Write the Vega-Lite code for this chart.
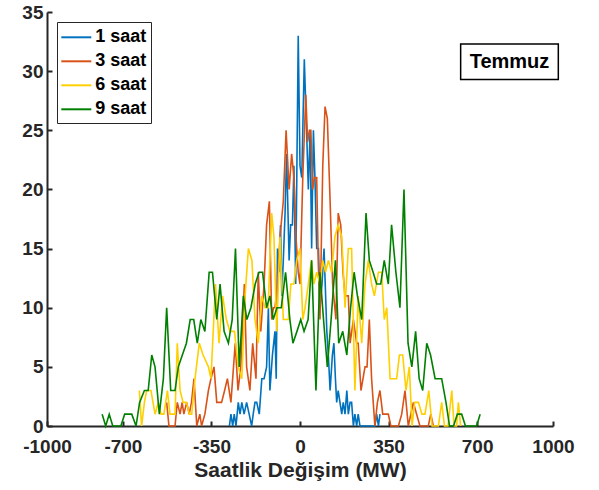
{
"$schema": "https://vega.github.io/schema/vega-lite/v6.json",
"width": 506, "height": 414,
"autosize": {"type": "none"},
"padding": {"left": 47, "top": 12, "right": 46, "bottom": 64},
"config": {"view": {"stroke": null}, "font": "Liberation Sans"},
"layer": [
{
"data": {"values": [
{"s":"1 saat","x":-279,"y":0},{"s":"1 saat","x":-273,"y":1},{"s":"1 saat","x":-266,"y":0},{"s":"1 saat","x":-260,"y":1},{"s":"1 saat","x":-253,"y":0},{"s":"1 saat","x":-244,"y":2},{"s":"1 saat","x":-237,"y":1},{"s":"1 saat","x":-230,"y":2},{"s":"1 saat","x":-221,"y":1},{"s":"1 saat","x":-211,"y":2},{"s":"1 saat","x":-201,"y":1},{"s":"1 saat","x":-191,"y":0},{"s":"1 saat","x":-185,"y":1},{"s":"1 saat","x":-178,"y":2},{"s":"1 saat","x":-171,"y":2},{"s":"1 saat","x":-161,"y":1},{"s":"1 saat","x":-151,"y":4},{"s":"1 saat","x":-142,"y":4},{"s":"1 saat","x":-132,"y":5},{"s":"1 saat","x":-125,"y":10},{"s":"1 saat","x":-119,"y":3},{"s":"1 saat","x":-109,"y":6},{"s":"1 saat","x":-99,"y":8},{"s":"1 saat","x":-94,"y":4},{"s":"1 saat","x":-89,"y":15},{"s":"1 saat","x":-83,"y":13},{"s":"1 saat","x":-77,"y":17},{"s":"1 saat","x":-72,"y":11},{"s":"1 saat","x":-66,"y":14},{"s":"1 saat","x":-59,"y":18},{"s":"1 saat","x":-53,"y":23},{"s":"1 saat","x":-43,"y":14},{"s":"1 saat","x":-37,"y":17},{"s":"1 saat","x":-30,"y":17},{"s":"1 saat","x":-24,"y":22},{"s":"1 saat","x":-17,"y":12},{"s":"1 saat","x":-7,"y":33},{"s":"1 saat","x":0,"y":22},{"s":"1 saat","x":7,"y":21},{"s":"1 saat","x":17,"y":31},{"s":"1 saat","x":26,"y":25},{"s":"1 saat","x":33,"y":20},{"s":"1 saat","x":40,"y":25},{"s":"1 saat","x":46,"y":15},{"s":"1 saat","x":53,"y":25},{"s":"1 saat","x":59,"y":21},{"s":"1 saat","x":66,"y":15},{"s":"1 saat","x":73,"y":15},{"s":"1 saat","x":79,"y":10},{"s":"1 saat","x":87,"y":12},{"s":"1 saat","x":95,"y":15},{"s":"1 saat","x":106,"y":8},{"s":"1 saat","x":112,"y":6},{"s":"1 saat","x":119,"y":3},{"s":"1 saat","x":128,"y":6},{"s":"1 saat","x":134,"y":7},{"s":"1 saat","x":140,"y":4},{"s":"1 saat","x":145,"y":2},{"s":"1 saat","x":151,"y":3},{"s":"1 saat","x":158,"y":2},{"s":"1 saat","x":165,"y":1},{"s":"1 saat","x":171,"y":2},{"s":"1 saat","x":178,"y":1},{"s":"1 saat","x":185,"y":3},{"s":"1 saat","x":191,"y":1},{"s":"1 saat","x":198,"y":2},{"s":"1 saat","x":204,"y":2},{"s":"1 saat","x":211,"y":0},{"s":"1 saat","x":217,"y":1},{"s":"1 saat","x":224,"y":0},{"s":"1 saat","x":230,"y":1},{"s":"1 saat","x":237,"y":0},{"s":"1 saat","x":296,"y":0},{"s":"1 saat","x":303,"y":1},{"s":"1 saat","x":310,"y":0},{"s":"1 saat","x":316,"y":1},
{"s":"3 saat","x":-527,"y":2},{"s":"3 saat","x":-518,"y":0},{"s":"3 saat","x":-494,"y":0},{"s":"3 saat","x":-485,"y":2},{"s":"3 saat","x":-474,"y":1},{"s":"3 saat","x":-466,"y":2},{"s":"3 saat","x":-459,"y":1},{"s":"3 saat","x":-448,"y":2},{"s":"3 saat","x":-438,"y":1},{"s":"3 saat","x":-429,"y":2},{"s":"3 saat","x":-419,"y":4},{"s":"3 saat","x":-408,"y":0},{"s":"3 saat","x":-396,"y":1},{"s":"3 saat","x":-389,"y":0},{"s":"3 saat","x":-376,"y":1},{"s":"3 saat","x":-362,"y":3},{"s":"3 saat","x":-352,"y":4},{"s":"3 saat","x":-340,"y":5},{"s":"3 saat","x":-329,"y":2},{"s":"3 saat","x":-310,"y":2},{"s":"3 saat","x":-298,"y":3},{"s":"3 saat","x":-287,"y":4},{"s":"3 saat","x":-273,"y":2},{"s":"3 saat","x":-256,"y":7},{"s":"3 saat","x":-245,"y":3},{"s":"3 saat","x":-234,"y":5},{"s":"3 saat","x":-220,"y":12},{"s":"3 saat","x":-211,"y":5},{"s":"3 saat","x":-198,"y":3},{"s":"3 saat","x":-187,"y":7},{"s":"3 saat","x":-174,"y":4},{"s":"3 saat","x":-165,"y":13},{"s":"3 saat","x":-155,"y":8},{"s":"3 saat","x":-142,"y":12},{"s":"3 saat","x":-132,"y":17},{"s":"3 saat","x":-121,"y":19},{"s":"3 saat","x":-112,"y":9},{"s":"3 saat","x":-105,"y":10},{"s":"3 saat","x":-99,"y":10},{"s":"3 saat","x":-89,"y":12},{"s":"3 saat","x":-79,"y":16},{"s":"3 saat","x":-66,"y":19},{"s":"3 saat","x":-55,"y":25},{"s":"3 saat","x":-43,"y":20},{"s":"3 saat","x":-33,"y":23},{"s":"3 saat","x":-24,"y":21},{"s":"3 saat","x":-16,"y":16},{"s":"3 saat","x":-7,"y":13},{"s":"3 saat","x":0,"y":12},{"s":"3 saat","x":11,"y":21},{"s":"3 saat","x":23,"y":28},{"s":"3 saat","x":30,"y":24},{"s":"3 saat","x":37,"y":25},{"s":"3 saat","x":43,"y":25},{"s":"3 saat","x":50,"y":20},{"s":"3 saat","x":57,"y":21},{"s":"3 saat","x":66,"y":21},{"s":"3 saat","x":72,"y":14},{"s":"3 saat","x":79,"y":9},{"s":"3 saat","x":90,"y":22},{"s":"3 saat","x":99,"y":27},{"s":"3 saat","x":108,"y":26},{"s":"3 saat","x":119,"y":19},{"s":"3 saat","x":129,"y":12},{"s":"3 saat","x":142,"y":9},{"s":"3 saat","x":151,"y":18},{"s":"3 saat","x":161,"y":17},{"s":"3 saat","x":170,"y":13},{"s":"3 saat","x":178,"y":11},{"s":"3 saat","x":191,"y":11},{"s":"3 saat","x":198,"y":7},{"s":"3 saat","x":211,"y":9},{"s":"3 saat","x":224,"y":7},{"s":"3 saat","x":230,"y":7},{"s":"3 saat","x":241,"y":3},{"s":"3 saat","x":257,"y":5},{"s":"3 saat","x":265,"y":5},{"s":"3 saat","x":274,"y":9},{"s":"3 saat","x":283,"y":4},{"s":"3 saat","x":296,"y":0},{"s":"3 saat","x":306,"y":2},{"s":"3 saat","x":316,"y":3},{"s":"3 saat","x":327,"y":1},{"s":"3 saat","x":338,"y":1},{"s":"3 saat","x":349,"y":1},{"s":"3 saat","x":359,"y":0},{"s":"3 saat","x":389,"y":0},{"s":"3 saat","x":402,"y":1},{"s":"3 saat","x":415,"y":3},{"s":"3 saat","x":428,"y":0},{"s":"3 saat","x":448,"y":2},{"s":"3 saat","x":461,"y":1},{"s":"3 saat","x":474,"y":0},{"s":"3 saat","x":507,"y":0},{"s":"3 saat","x":517,"y":1},{"s":"3 saat","x":527,"y":0},
{"s":"6 saat","x":-635,"y":3},{"s":"6 saat","x":-626,"y":0},{"s":"6 saat","x":-615,"y":2},{"s":"6 saat","x":-606,"y":3},{"s":"6 saat","x":-589,"y":3},{"s":"6 saat","x":-573,"y":1},{"s":"6 saat","x":-560,"y":2},{"s":"6 saat","x":-549,"y":1},{"s":"6 saat","x":-538,"y":1},{"s":"6 saat","x":-524,"y":3},{"s":"6 saat","x":-514,"y":1},{"s":"6 saat","x":-494,"y":1},{"s":"6 saat","x":-485,"y":7},{"s":"6 saat","x":-474,"y":3},{"s":"6 saat","x":-462,"y":2},{"s":"6 saat","x":-449,"y":2},{"s":"6 saat","x":-437,"y":1},{"s":"6 saat","x":-428,"y":1},{"s":"6 saat","x":-415,"y":4},{"s":"6 saat","x":-398,"y":7},{"s":"6 saat","x":-383,"y":6},{"s":"6 saat","x":-362,"y":5},{"s":"6 saat","x":-352,"y":4},{"s":"6 saat","x":-334,"y":12},{"s":"6 saat","x":-320,"y":7},{"s":"6 saat","x":-306,"y":11},{"s":"6 saat","x":-291,"y":9},{"s":"6 saat","x":-277,"y":8},{"s":"6 saat","x":-259,"y":8},{"s":"6 saat","x":-244,"y":5},{"s":"6 saat","x":-230,"y":4},{"s":"6 saat","x":-217,"y":11},{"s":"6 saat","x":-204,"y":15},{"s":"6 saat","x":-190,"y":14},{"s":"6 saat","x":-178,"y":9},{"s":"6 saat","x":-165,"y":7},{"s":"6 saat","x":-151,"y":11},{"s":"6 saat","x":-138,"y":10},{"s":"6 saat","x":-126,"y":10},{"s":"6 saat","x":-112,"y":18},{"s":"6 saat","x":-103,"y":16},{"s":"6 saat","x":-92,"y":8},{"s":"6 saat","x":-79,"y":16},{"s":"6 saat","x":-66,"y":9},{"s":"6 saat","x":-55,"y":9},{"s":"6 saat","x":-46,"y":9},{"s":"6 saat","x":-36,"y":12},{"s":"6 saat","x":-24,"y":12},{"s":"6 saat","x":-13,"y":14},{"s":"6 saat","x":0,"y":15},{"s":"6 saat","x":11,"y":9},{"s":"6 saat","x":20,"y":10},{"s":"6 saat","x":33,"y":12},{"s":"6 saat","x":45,"y":14},{"s":"6 saat","x":55,"y":12},{"s":"6 saat","x":66,"y":13},{"s":"6 saat","x":79,"y":12},{"s":"6 saat","x":90,"y":14},{"s":"6 saat","x":101,"y":13},{"s":"6 saat","x":112,"y":14},{"s":"6 saat","x":125,"y":13},{"s":"6 saat","x":138,"y":16},{"s":"6 saat","x":151,"y":17},{"s":"6 saat","x":165,"y":16},{"s":"6 saat","x":178,"y":10},{"s":"6 saat","x":191,"y":15},{"s":"6 saat","x":204,"y":15},{"s":"6 saat","x":217,"y":3},{"s":"6 saat","x":230,"y":11},{"s":"6 saat","x":244,"y":7},{"s":"6 saat","x":257,"y":12},{"s":"6 saat","x":270,"y":14},{"s":"6 saat","x":283,"y":12},{"s":"6 saat","x":294,"y":11},{"s":"6 saat","x":310,"y":13},{"s":"6 saat","x":323,"y":13},{"s":"6 saat","x":333,"y":9},{"s":"6 saat","x":343,"y":10},{"s":"6 saat","x":356,"y":4},{"s":"6 saat","x":382,"y":4},{"s":"6 saat","x":393,"y":6},{"s":"6 saat","x":406,"y":6},{"s":"6 saat","x":419,"y":3},{"s":"6 saat","x":432,"y":5},{"s":"6 saat","x":443,"y":0},{"s":"6 saat","x":453,"y":2},{"s":"6 saat","x":468,"y":2},{"s":"6 saat","x":482,"y":1},{"s":"6 saat","x":494,"y":1},{"s":"6 saat","x":509,"y":3},{"s":"6 saat","x":522,"y":0},{"s":"6 saat","x":547,"y":0},{"s":"6 saat","x":560,"y":2},{"s":"6 saat","x":571,"y":0},{"s":"6 saat","x":585,"y":0},{"s":"6 saat","x":600,"y":3},{"s":"6 saat","x":609,"y":0},{"s":"6 saat","x":619,"y":0},{"s":"6 saat","x":626,"y":2},{"s":"6 saat","x":635,"y":0},
{"s":"9 saat","x":-782,"y":1},{"s":"9 saat","x":-768,"y":0},{"s":"9 saat","x":-754,"y":1},{"s":"9 saat","x":-740,"y":0},{"s":"9 saat","x":-708,"y":0},{"s":"9 saat","x":-693,"y":1},{"s":"9 saat","x":-665,"y":1},{"s":"9 saat","x":-648,"y":0},{"s":"9 saat","x":-634,"y":2},{"s":"9 saat","x":-615,"y":3},{"s":"9 saat","x":-600,"y":3},{"s":"9 saat","x":-586,"y":6},{"s":"9 saat","x":-573,"y":5},{"s":"9 saat","x":-556,"y":1},{"s":"9 saat","x":-540,"y":4},{"s":"9 saat","x":-527,"y":10},{"s":"9 saat","x":-511,"y":3},{"s":"9 saat","x":-494,"y":3},{"s":"9 saat","x":-481,"y":5},{"s":"9 saat","x":-465,"y":6},{"s":"9 saat","x":-449,"y":7},{"s":"9 saat","x":-434,"y":9},{"s":"9 saat","x":-420,"y":9},{"s":"9 saat","x":-406,"y":7},{"s":"9 saat","x":-392,"y":9},{"s":"9 saat","x":-376,"y":8},{"s":"9 saat","x":-359,"y":13},{"s":"9 saat","x":-346,"y":13},{"s":"9 saat","x":-329,"y":9},{"s":"9 saat","x":-316,"y":12},{"s":"9 saat","x":-300,"y":8},{"s":"9 saat","x":-283,"y":7},{"s":"9 saat","x":-268,"y":9},{"s":"9 saat","x":-255,"y":15},{"s":"9 saat","x":-240,"y":5},{"s":"9 saat","x":-224,"y":11},{"s":"9 saat","x":-210,"y":9},{"s":"9 saat","x":-194,"y":10},{"s":"9 saat","x":-177,"y":12},{"s":"9 saat","x":-162,"y":13},{"s":"9 saat","x":-148,"y":13},{"s":"9 saat","x":-132,"y":10},{"s":"9 saat","x":-119,"y":11},{"s":"9 saat","x":-106,"y":9},{"s":"9 saat","x":-91,"y":10},{"s":"9 saat","x":-74,"y":10},{"s":"9 saat","x":-57,"y":13},{"s":"9 saat","x":-40,"y":9},{"s":"9 saat","x":-28,"y":7},{"s":"9 saat","x":-12,"y":8},{"s":"9 saat","x":3,"y":9},{"s":"9 saat","x":16,"y":8},{"s":"9 saat","x":32,"y":9},{"s":"9 saat","x":46,"y":14},{"s":"9 saat","x":63,"y":3},{"s":"9 saat","x":79,"y":13},{"s":"9 saat","x":93,"y":9},{"s":"9 saat","x":108,"y":5},{"s":"9 saat","x":123,"y":9},{"s":"9 saat","x":140,"y":14},{"s":"9 saat","x":153,"y":7},{"s":"9 saat","x":169,"y":8},{"s":"9 saat","x":185,"y":6},{"s":"9 saat","x":200,"y":10},{"s":"9 saat","x":214,"y":13},{"s":"9 saat","x":227,"y":11},{"s":"9 saat","x":244,"y":9},{"s":"9 saat","x":261,"y":18},{"s":"9 saat","x":274,"y":14},{"s":"9 saat","x":289,"y":13},{"s":"9 saat","x":303,"y":12},{"s":"9 saat","x":319,"y":12},{"s":"9 saat","x":333,"y":14},{"s":"9 saat","x":349,"y":12},{"s":"9 saat","x":362,"y":17},{"s":"9 saat","x":379,"y":13},{"s":"9 saat","x":395,"y":10},{"s":"9 saat","x":411,"y":20},{"s":"9 saat","x":427,"y":7},{"s":"9 saat","x":442,"y":5},{"s":"9 saat","x":457,"y":8},{"s":"9 saat","x":471,"y":4},{"s":"9 saat","x":485,"y":3},{"s":"9 saat","x":501,"y":7},{"s":"9 saat","x":516,"y":6},{"s":"9 saat","x":534,"y":4},{"s":"9 saat","x":560,"y":4},{"s":"9 saat","x":577,"y":2},{"s":"9 saat","x":591,"y":0},{"s":"9 saat","x":607,"y":0},{"s":"9 saat","x":622,"y":1},{"s":"9 saat","x":639,"y":1},{"s":"9 saat","x":654,"y":0},{"s":"9 saat","x":698,"y":0},{"s":"9 saat","x":712,"y":1}
]},
"mark": {"type": "line", "strokeWidth": 1.6},
"encoding": {
"x": {"field": "x", "type": "quantitative",
 "scale": {"domain": [-1000, 1000], "nice": false, "zero": false},
 "axis": {"title": "Saatlik Değişim (MW)", "values": [-1000, -700, -350, 0, 350, 700, 1000], "labelOverlap": false, "labelFlush": false, "labelExpr": "'' + datum.value",
  "grid": false, "domainColor": "#262626", "domainWidth": 2, "tickColor": "#262626", "tickWidth": 2, "tickSize": -5,
  "labelFont": "Liberation Sans", "labelFontSize": 19, "labelFontWeight": "bold", "labelColor": "#262626", "labelPadding": 16,
  "titleFont": "Liberation Sans", "titleFontSize": 21, "titleFontWeight": "bold", "titleColor": "#262626", "titlePadding": 3}},
"y": {"field": "y", "type": "quantitative",
 "scale": {"domain": [0, 35], "nice": false},
 "axis": {"title": null, "values": [0, 5, 10, 15, 20, 25, 30, 35], "labelOverlap": false, "labelFlush": false, "labelExpr": "'' + datum.value",
  "grid": false, "domainColor": "#262626", "domainWidth": 2, "tickColor": "#262626", "tickWidth": 2, "tickSize": -5,
  "labelFont": "Liberation Sans", "labelFontSize": 19, "labelFontWeight": "bold", "labelColor": "#262626", "labelPadding": 9}},
"color": {"field": "s", "type": "nominal",
 "scale": {"domain": ["1 saat", "3 saat", "6 saat", "9 saat"], "range": ["#0072BD", "#D95319", "#FFD000", "#008000"]},
 "legend": {"orient": "none", "legendX": 10, "legendY": 10, "title": null, "symbolType": "M-1.1,0H1.9", "symbolSize": 400,
  "symbolStrokeWidth": 2, "labelFont": "Liberation Sans", "labelFontSize": 18, "labelFontWeight": "bold", "labelColor": "black",
  "strokeColor": "#262626", "fillColor": "white", "padding": 4.3, "rowPadding": 4, "labelOffset": 12, "cornerRadius": 0}}
}
},
{
"data": {"values": [{"x": 635, "xe": 1021, "y": 32.3, "ye": 29.3}]},
"mark": {"type": "rect", "fill": "white", "stroke": "black", "strokeWidth": 1.5},
"encoding": {"x": {"field": "x", "type": "quantitative"}, "x2": {"field": "xe"}, "y": {"field": "y", "type": "quantitative"}, "y2": {"field": "ye"}}
},
{
"data": {"values": [{"x": 828, "y": 30.8, "t": "Temmuz"}]},
"mark": {"type": "text", "font": "Liberation Sans", "fontSize": 20, "fontWeight": "bold", "color": "black", "baseline": "middle", "align": "center"},
"encoding": {"x": {"field": "x", "type": "quantitative"}, "y": {"field": "y", "type": "quantitative"}, "text": {"field": "t"}}
}
]
}
